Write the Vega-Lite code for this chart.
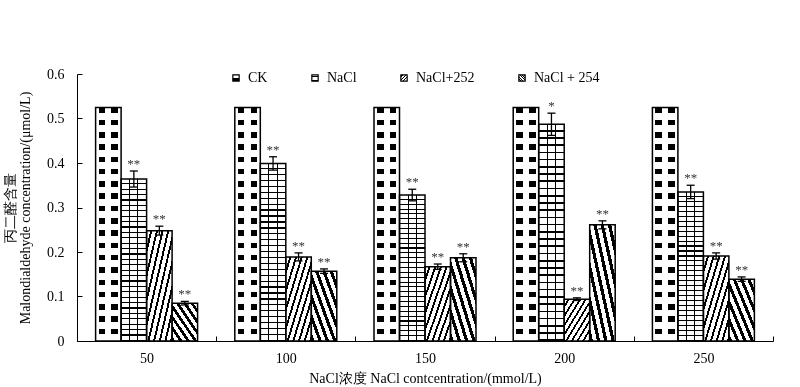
{
  "$schema": "https://vega.github.io/schema/vega-lite/v6.json",
  "width": 696,
  "height": 267,
  "autosize": {"type": "none"},
  "padding": {"left": 77, "top": 74, "right": 27, "bottom": 46},
  "background": "white",
  "config": {
    "view": {"stroke": null},
    "font": "Liberation Serif",
    "axis": {
      "domainColor": "#000", "tickColor": "#000", "labelColor": "#000", "titleColor": "#000",
      "labelFont": "Liberation Serif", "titleFont": "Liberation Serif",
      "labelFontSize": 14, "titleFontSize": 14, "titleFontWeight": "normal",
      "grid": false, "domainWidth": 1, "tickWidth": 1
    },
    "legend": {
      "labelFont": "Liberation Serif", "labelFontSize": 14, "labelColor": "#000",
      "symbolType": "square", "symbolSize": 40, "symbolStrokeColor": "#000", "symbolStrokeWidth": 1.2,
      "labelOffset": 5, "columnPadding": 40, "padding": 0
    }
  },
  "params": [
    {"name": "gCK", "value": {"gradient": "linear", "x1": 0, "y1": 0, "x2": 0, "y2": 1, "stops": [
      {"offset": 0, "color": "#000"}, {"offset": 0.0237, "color": "#000"}, {"offset": 0.0237, "color": "#fff"}, {"offset": 0.0526, "color": "#fff"},
      {"offset": 0.0526, "color": "#000"}, {"offset": 0.0763, "color": "#000"}, {"offset": 0.0763, "color": "#fff"}, {"offset": 0.1053, "color": "#fff"},
      {"offset": 0.1053, "color": "#000"}, {"offset": 0.129, "color": "#000"}, {"offset": 0.129, "color": "#fff"}, {"offset": 0.1579, "color": "#fff"},
      {"offset": 0.1579, "color": "#000"}, {"offset": 0.1816, "color": "#000"}, {"offset": 0.1816, "color": "#fff"}, {"offset": 0.2105, "color": "#fff"},
      {"offset": 0.2105, "color": "#000"}, {"offset": 0.2342, "color": "#000"}, {"offset": 0.2342, "color": "#fff"}, {"offset": 0.2632, "color": "#fff"},
      {"offset": 0.2632, "color": "#000"}, {"offset": 0.2869, "color": "#000"}, {"offset": 0.2869, "color": "#fff"}, {"offset": 0.3158, "color": "#fff"},
      {"offset": 0.3158, "color": "#000"}, {"offset": 0.3395, "color": "#000"}, {"offset": 0.3395, "color": "#fff"}, {"offset": 0.3684, "color": "#fff"},
      {"offset": 0.3684, "color": "#000"}, {"offset": 0.3921, "color": "#000"}, {"offset": 0.3921, "color": "#fff"}, {"offset": 0.4211, "color": "#fff"},
      {"offset": 0.4211, "color": "#000"}, {"offset": 0.4448, "color": "#000"}, {"offset": 0.4448, "color": "#fff"}, {"offset": 0.4737, "color": "#fff"},
      {"offset": 0.4737, "color": "#000"}, {"offset": 0.4974, "color": "#000"}, {"offset": 0.4974, "color": "#fff"}, {"offset": 0.5263, "color": "#fff"},
      {"offset": 0.5263, "color": "#000"}, {"offset": 0.55, "color": "#000"}, {"offset": 0.55, "color": "#fff"}, {"offset": 0.5789, "color": "#fff"},
      {"offset": 0.5789, "color": "#000"}, {"offset": 0.6026, "color": "#000"}, {"offset": 0.6026, "color": "#fff"}, {"offset": 0.6316, "color": "#fff"},
      {"offset": 0.6316, "color": "#000"}, {"offset": 0.6553, "color": "#000"}, {"offset": 0.6553, "color": "#fff"}, {"offset": 0.6842, "color": "#fff"},
      {"offset": 0.6842, "color": "#000"}, {"offset": 0.7079, "color": "#000"}, {"offset": 0.7079, "color": "#fff"}, {"offset": 0.7368, "color": "#fff"},
      {"offset": 0.7368, "color": "#000"}, {"offset": 0.7605, "color": "#000"}, {"offset": 0.7605, "color": "#fff"}, {"offset": 0.7895, "color": "#fff"},
      {"offset": 0.7895, "color": "#000"}, {"offset": 0.8132, "color": "#000"}, {"offset": 0.8132, "color": "#fff"}, {"offset": 0.8421, "color": "#fff"},
      {"offset": 0.8421, "color": "#000"}, {"offset": 0.8658, "color": "#000"}, {"offset": 0.8658, "color": "#fff"}, {"offset": 0.8947, "color": "#fff"},
      {"offset": 0.8947, "color": "#000"}, {"offset": 0.9184, "color": "#000"}, {"offset": 0.9184, "color": "#fff"}, {"offset": 0.9474, "color": "#fff"},
      {"offset": 0.9474, "color": "#000"}, {"offset": 0.9711, "color": "#000"}, {"offset": 0.9711, "color": "#fff"}, {"offset": 1, "color": "#fff"}
    ]}},
    {"name": "gNaCl", "value": {"gradient": "linear", "x1": 0, "y1": 0, "x2": 0, "y2": 1, "stops": [
      {"offset": 0, "color": "#fff"}, {"offset": 0.026, "color": "#fff"}, {"offset": 0.026, "color": "#000"}, {"offset": 0.0333, "color": "#000"},
      {"offset": 0.0333, "color": "#fff"}, {"offset": 0.0593, "color": "#fff"}, {"offset": 0.0593, "color": "#000"}, {"offset": 0.0667, "color": "#000"},
      {"offset": 0.0667, "color": "#fff"}, {"offset": 0.0927, "color": "#fff"}, {"offset": 0.0927, "color": "#000"}, {"offset": 0.1, "color": "#000"},
      {"offset": 0.1, "color": "#fff"}, {"offset": 0.126, "color": "#fff"}, {"offset": 0.126, "color": "#000"}, {"offset": 0.1333, "color": "#000"},
      {"offset": 0.1333, "color": "#fff"}, {"offset": 0.1593, "color": "#fff"}, {"offset": 0.1593, "color": "#000"}, {"offset": 0.1667, "color": "#000"},
      {"offset": 0.1667, "color": "#fff"}, {"offset": 0.1927, "color": "#fff"}, {"offset": 0.1927, "color": "#000"}, {"offset": 0.2, "color": "#000"},
      {"offset": 0.2, "color": "#fff"}, {"offset": 0.226, "color": "#fff"}, {"offset": 0.226, "color": "#000"}, {"offset": 0.2333, "color": "#000"},
      {"offset": 0.2333, "color": "#fff"}, {"offset": 0.2593, "color": "#fff"}, {"offset": 0.2593, "color": "#000"}, {"offset": 0.2667, "color": "#000"},
      {"offset": 0.2667, "color": "#fff"}, {"offset": 0.2927, "color": "#fff"}, {"offset": 0.2927, "color": "#000"}, {"offset": 0.3, "color": "#000"},
      {"offset": 0.3, "color": "#fff"}, {"offset": 0.326, "color": "#fff"}, {"offset": 0.326, "color": "#000"}, {"offset": 0.3333, "color": "#000"},
      {"offset": 0.3333, "color": "#fff"}, {"offset": 0.3593, "color": "#fff"}, {"offset": 0.3593, "color": "#000"}, {"offset": 0.3667, "color": "#000"},
      {"offset": 0.3667, "color": "#fff"}, {"offset": 0.3927, "color": "#fff"}, {"offset": 0.3927, "color": "#000"}, {"offset": 0.4, "color": "#000"},
      {"offset": 0.4, "color": "#fff"}, {"offset": 0.426, "color": "#fff"}, {"offset": 0.426, "color": "#000"}, {"offset": 0.4333, "color": "#000"},
      {"offset": 0.4333, "color": "#fff"}, {"offset": 0.4593, "color": "#fff"}, {"offset": 0.4593, "color": "#000"}, {"offset": 0.4667, "color": "#000"},
      {"offset": 0.4667, "color": "#fff"}, {"offset": 0.4927, "color": "#fff"}, {"offset": 0.4927, "color": "#000"}, {"offset": 0.5, "color": "#000"},
      {"offset": 0.5, "color": "#fff"}, {"offset": 0.526, "color": "#fff"}, {"offset": 0.526, "color": "#000"}, {"offset": 0.5333, "color": "#000"},
      {"offset": 0.5333, "color": "#fff"}, {"offset": 0.5593, "color": "#fff"}, {"offset": 0.5593, "color": "#000"}, {"offset": 0.5667, "color": "#000"},
      {"offset": 0.5667, "color": "#fff"}, {"offset": 0.5927, "color": "#fff"}, {"offset": 0.5927, "color": "#000"}, {"offset": 0.6, "color": "#000"},
      {"offset": 0.6, "color": "#fff"}, {"offset": 0.626, "color": "#fff"}, {"offset": 0.626, "color": "#000"}, {"offset": 0.6333, "color": "#000"},
      {"offset": 0.6333, "color": "#fff"}, {"offset": 0.6593, "color": "#fff"}, {"offset": 0.6593, "color": "#000"}, {"offset": 0.6667, "color": "#000"},
      {"offset": 0.6667, "color": "#fff"}, {"offset": 0.6927, "color": "#fff"}, {"offset": 0.6927, "color": "#000"}, {"offset": 0.7, "color": "#000"},
      {"offset": 0.7, "color": "#fff"}, {"offset": 0.726, "color": "#fff"}, {"offset": 0.726, "color": "#000"}, {"offset": 0.7333, "color": "#000"},
      {"offset": 0.7333, "color": "#fff"}, {"offset": 0.7593, "color": "#fff"}, {"offset": 0.7593, "color": "#000"}, {"offset": 0.7667, "color": "#000"},
      {"offset": 0.7667, "color": "#fff"}, {"offset": 0.7927, "color": "#fff"}, {"offset": 0.7927, "color": "#000"}, {"offset": 0.8, "color": "#000"},
      {"offset": 0.8, "color": "#fff"}, {"offset": 0.826, "color": "#fff"}, {"offset": 0.826, "color": "#000"}, {"offset": 0.8333, "color": "#000"},
      {"offset": 0.8333, "color": "#fff"}, {"offset": 0.8593, "color": "#fff"}, {"offset": 0.8593, "color": "#000"}, {"offset": 0.8667, "color": "#000"},
      {"offset": 0.8667, "color": "#fff"}, {"offset": 0.8927, "color": "#fff"}, {"offset": 0.8927, "color": "#000"}, {"offset": 0.9, "color": "#000"},
      {"offset": 0.9, "color": "#fff"}, {"offset": 0.926, "color": "#fff"}, {"offset": 0.926, "color": "#000"}, {"offset": 0.9333, "color": "#000"},
      {"offset": 0.9333, "color": "#fff"}, {"offset": 0.9593, "color": "#fff"}, {"offset": 0.9593, "color": "#000"}, {"offset": 0.9667, "color": "#000"},
      {"offset": 0.9667, "color": "#fff"}, {"offset": 0.9927, "color": "#fff"}, {"offset": 0.9927, "color": "#000"}, {"offset": 1, "color": "#000"}
    ]}},
    {"name": "g252", "value": {"gradient": "linear", "x1": 0, "y1": 0, "x2": 1, "y2": 1, "stops": [
      {"offset": 0, "color": "#fff"}, {"offset": 0.0722, "color": "#fff"}, {"offset": 0.0722, "color": "#000"}, {"offset": 0.1111, "color": "#000"},
      {"offset": 0.1111, "color": "#fff"}, {"offset": 0.1833, "color": "#fff"}, {"offset": 0.1833, "color": "#000"}, {"offset": 0.2222, "color": "#000"},
      {"offset": 0.2222, "color": "#fff"}, {"offset": 0.2944, "color": "#fff"}, {"offset": 0.2944, "color": "#000"}, {"offset": 0.3333, "color": "#000"},
      {"offset": 0.3333, "color": "#fff"}, {"offset": 0.4056, "color": "#fff"}, {"offset": 0.4056, "color": "#000"}, {"offset": 0.4444, "color": "#000"},
      {"offset": 0.4444, "color": "#fff"}, {"offset": 0.5167, "color": "#fff"}, {"offset": 0.5167, "color": "#000"}, {"offset": 0.5556, "color": "#000"},
      {"offset": 0.5556, "color": "#fff"}, {"offset": 0.6278, "color": "#fff"}, {"offset": 0.6278, "color": "#000"}, {"offset": 0.6667, "color": "#000"},
      {"offset": 0.6667, "color": "#fff"}, {"offset": 0.7389, "color": "#fff"}, {"offset": 0.7389, "color": "#000"}, {"offset": 0.7778, "color": "#000"},
      {"offset": 0.7778, "color": "#fff"}, {"offset": 0.85, "color": "#fff"}, {"offset": 0.85, "color": "#000"}, {"offset": 0.8889, "color": "#000"},
      {"offset": 0.8889, "color": "#fff"}, {"offset": 0.9611, "color": "#fff"}, {"offset": 0.9611, "color": "#000"}, {"offset": 1, "color": "#000"}
    ]}},
    {"name": "g254", "value": {"gradient": "linear", "x1": 1, "y1": 0, "x2": 0, "y2": 1, "stops": [
      {"offset": 0, "color": "#fff"}, {"offset": 0.0786, "color": "#fff"}, {"offset": 0.0786, "color": "#000"}, {"offset": 0.1429, "color": "#000"},
      {"offset": 0.1429, "color": "#fff"}, {"offset": 0.2214, "color": "#fff"}, {"offset": 0.2214, "color": "#000"}, {"offset": 0.2857, "color": "#000"},
      {"offset": 0.2857, "color": "#fff"}, {"offset": 0.3643, "color": "#fff"}, {"offset": 0.3643, "color": "#000"}, {"offset": 0.4286, "color": "#000"},
      {"offset": 0.4286, "color": "#fff"}, {"offset": 0.5071, "color": "#fff"}, {"offset": 0.5071, "color": "#000"}, {"offset": 0.5714, "color": "#000"},
      {"offset": 0.5714, "color": "#fff"}, {"offset": 0.65, "color": "#fff"}, {"offset": 0.65, "color": "#000"}, {"offset": 0.7143, "color": "#000"},
      {"offset": 0.7143, "color": "#fff"}, {"offset": 0.7929, "color": "#fff"}, {"offset": 0.7929, "color": "#000"}, {"offset": 0.8571, "color": "#000"},
      {"offset": 0.8571, "color": "#fff"}, {"offset": 0.9357, "color": "#fff"}, {"offset": 0.9357, "color": "#000"}, {"offset": 1, "color": "#000"}
    ]}}
  ],
  "data": {"values": [
    {"c": "50", "t": "CK", "v": 0.525},
    {"c": "50", "t": "NaCl", "v": 0.364, "lo": 0.346, "hi": 0.382, "s": "**"},
    {"c": "50", "t": "NaCl+252", "v": 0.248, "lo": 0.238, "hi": 0.258, "s": "**"},
    {"c": "50", "t": "NaCl + 254", "v": 0.085, "lo": 0.081, "hi": 0.089, "s": "**"},
    {"c": "100", "t": "CK", "v": 0.525},
    {"c": "100", "t": "NaCl", "v": 0.399, "lo": 0.384, "hi": 0.414, "s": "**"},
    {"c": "100", "t": "NaCl+252", "v": 0.189, "lo": 0.18, "hi": 0.198, "s": "**"},
    {"c": "100", "t": "NaCl + 254", "v": 0.157, "lo": 0.152, "hi": 0.162, "s": "**"},
    {"c": "150", "t": "CK", "v": 0.525},
    {"c": "150", "t": "NaCl", "v": 0.328, "lo": 0.315, "hi": 0.341, "s": "**"},
    {"c": "150", "t": "NaCl+252", "v": 0.167, "lo": 0.161, "hi": 0.173, "s": "**"},
    {"c": "150", "t": "NaCl + 254", "v": 0.187, "lo": 0.178, "hi": 0.196, "s": "**"},
    {"c": "200", "t": "CK", "v": 0.525},
    {"c": "200", "t": "NaCl", "v": 0.487, "lo": 0.462, "hi": 0.512, "s": "*"},
    {"c": "200", "t": "NaCl+252", "v": 0.094, "lo": 0.091, "hi": 0.097, "s": "**"},
    {"c": "200", "t": "NaCl + 254", "v": 0.261, "lo": 0.252, "hi": 0.27, "s": "**"},
    {"c": "250", "t": "CK", "v": 0.525},
    {"c": "250", "t": "NaCl", "v": 0.335, "lo": 0.32, "hi": 0.35, "s": "**"},
    {"c": "250", "t": "NaCl+252", "v": 0.191, "lo": 0.184, "hi": 0.198, "s": "**"},
    {"c": "250", "t": "NaCl + 254", "v": 0.139, "lo": 0.134, "hi": 0.144, "s": "**"}
  ]},
  "encoding": {
    "x": {
      "field": "c", "type": "ordinal", "sort": ["50", "100", "150", "200", "250"],
      "scale": {"paddingInner": 0, "paddingOuter": 0},
      "axis": {"title": "NaCl浓度 NaCl contcentration/(mmol/L)", "labelAngle": 0, "tickBand": "extent", "tickSize": -5, "labelPadding": 15, "titlePadding": 6}
    },
    "xOffset": {
      "field": "t", "type": "nominal",
      "scale": {"domain": ["CK", "NaCl", "NaCl+252", "NaCl + 254"], "paddingInner": 0, "paddingOuter": 0.73}
    }
  },
  "layer": [
    {
      "mark": {"type": "bar", "fillOpacity": 1},
      "encoding": {
        "y": {
          "field": "v", "type": "quantitative",
          "scale": {"domain": [0, 0.6], "nice": false},
          "title": ["丙二醛含量", "Malondialdehyde concentration/(μmol/L)"],
          "axis": {"values": [0, 0.1, 0.2, 0.3, 0.4, 0.5, 0.6], "format": ".1~f", "tickSize": -5, "labelPadding": 18, "titlePadding": 14, "titleLineHeight": 15}
        },
        "fill": {
          "field": "t", "type": "nominal",
          "scale": {"domain": ["CK", "NaCl", "NaCl+252", "NaCl + 254"], "range": [{"expr": "gCK"}, {"expr": "gNaCl"}, {"expr": "g252"}, {"expr": "g254"}]},
          "legend": {"orient": "none", "legendX": 152, "legendY": -3, "direction": "horizontal", "title": null}
        }
      }
    },
    {
      "transform": [{"filter": "datum.t === 'CK'"}],
      "mark": {"type": "bar", "blend": "lighten", "fillOpacity": 1, "fill": {"gradient": "linear", "x1": 0, "y1": 0, "x2": 1, "y2": 0, "stops": [
        {"offset": 0, "color": "#fff"}, {"offset": 0.12, "color": "#fff"}, {"offset": 0.12, "color": "#000"}, {"offset": 0.38, "color": "#000"},
        {"offset": 0.38, "color": "#fff"}, {"offset": 0.62, "color": "#fff"}, {"offset": 0.62, "color": "#000"}, {"offset": 0.88, "color": "#000"},
        {"offset": 0.88, "color": "#fff"}, {"offset": 1, "color": "#fff"}
      ]}},
      "encoding": {"y": {"field": "v", "type": "quantitative", "title": ["丙二醛含量", "Malondialdehyde concentration/(μmol/L)"]}}
    },
    {
      "transform": [{"filter": "datum.t === 'NaCl'"}],
      "mark": {"type": "bar", "blend": "multiply", "fillOpacity": 1, "fill": {"gradient": "linear", "x1": 0, "y1": 0, "x2": 1, "y2": 0, "stops": [
        {"offset": 0, "color": "#fff"}, {"offset": 0.32, "color": "#fff"}, {"offset": 0.32, "color": "#000"}, {"offset": 0.36, "color": "#000"},
        {"offset": 0.36, "color": "#fff"}, {"offset": 0.64, "color": "#fff"}, {"offset": 0.64, "color": "#000"}, {"offset": 0.68, "color": "#000"},
        {"offset": 0.68, "color": "#fff"}, {"offset": 1, "color": "#fff"}
      ]}},
      "encoding": {"y": {"field": "v", "type": "quantitative", "title": ["丙二醛含量", "Malondialdehyde concentration/(μmol/L)"]}}
    },
    {
      "mark": {"type": "bar", "fillOpacity": 0, "stroke": "#000", "strokeWidth": 1.5},
      "encoding": {"y": {"field": "v", "type": "quantitative", "title": ["丙二醛含量", "Malondialdehyde concentration/(μmol/L)"]}}
    },
    {
      "transform": [{"filter": "isValid(datum.hi)"}],
      "mark": {"type": "rule", "color": "#000", "strokeWidth": 1.3},
      "encoding": {
        "y": {"field": "lo", "type": "quantitative", "title": ["丙二醛含量", "Malondialdehyde concentration/(μmol/L)"]},
        "y2": {"field": "hi"}
      }
    },
    {
      "transform": [{"filter": "isValid(datum.hi)"}],
      "mark": {"type": "tick", "orient": "horizontal", "size": 8, "thickness": 1.3, "color": "#000", "opacity": 1},
      "encoding": {"y": {"field": "hi", "type": "quantitative", "title": ["丙二醛含量", "Malondialdehyde concentration/(μmol/L)"]}}
    },
    {
      "transform": [{"filter": "isValid(datum.hi)"}],
      "mark": {"type": "tick", "orient": "horizontal", "size": 8, "thickness": 1.3, "color": "#000", "opacity": 1},
      "encoding": {"y": {"field": "lo", "type": "quantitative", "title": ["丙二醛含量", "Malondialdehyde concentration/(μmol/L)"]}}
    },
    {
      "transform": [{"filter": "isValid(datum.hi)"}],
      "mark": {"type": "text", "baseline": "alphabetic", "dy": -3, "fontSize": 13, "color": "#333", "font": "Liberation Serif"},
      "encoding": {
        "y": {"field": "hi", "type": "quantitative", "title": ["丙二醛含量", "Malondialdehyde concentration/(μmol/L)"]},
        "text": {"field": "s"}
      }
    }
  ]
}
